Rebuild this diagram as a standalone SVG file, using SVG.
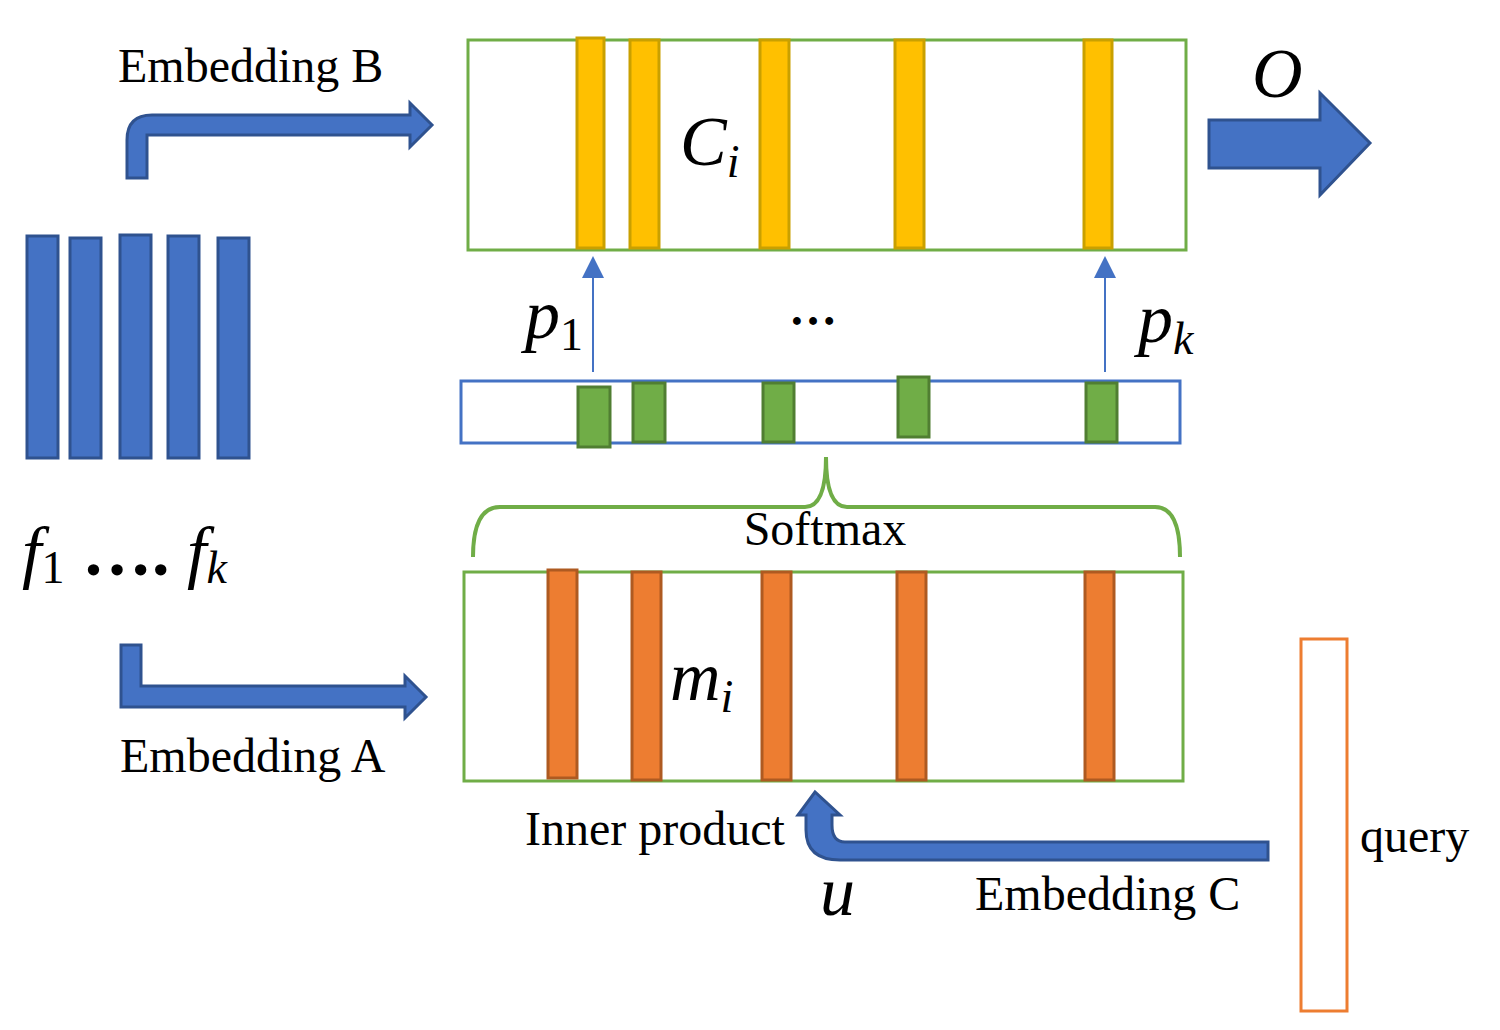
<svg xmlns="http://www.w3.org/2000/svg" width="1500" height="1030" viewBox="0 0 1500 1030">
<style>
.t{font-family:"Liberation Serif",serif;font-size:48px;fill:#000}
.m{font-family:"Liberation Serif",serif;font-style:italic;font-size:70px;fill:#000}
.s{font-size:46px;font-style:normal}
.si{font-size:46px}
.blue{fill:#4472C4;stroke:#2F528F;stroke-width:3}
.y{fill:#FFC000;stroke:#C9A000;stroke-width:3}
.g{fill:#70AD47;stroke:#507E32;stroke-width:3}
.o{fill:#ED7D31;stroke:#AE5A21;stroke-width:3}
</style>
<rect width="1500" height="1030" fill="#fff"/>
<g id="left-bars">
<rect class="blue" x="27" y="236" width="31" height="222"/>
<rect class="blue" x="70" y="238" width="31" height="220"/>
<rect class="blue" x="120" y="235" width="31" height="223"/>
<rect class="blue" x="168" y="236" width="31" height="222"/>
<rect class="blue" x="218" y="238" width="31" height="220"/>
<text class="m" x="22" y="575">f<tspan class="s" dy="8">1</tspan><tspan dy="-8" font-style="normal" font-weight="bold"> ….</tspan><tspan> f</tspan><tspan class="si" dy="8">k</tspan></text>
</g>
<g id="top-box">
<rect x="468" y="40" width="718" height="210" fill="none" stroke="#70AD47" stroke-width="3"/>
<rect class="y" x="577" y="38" width="27" height="210"/>
<rect class="y" x="630" y="40" width="29" height="208"/>
<rect class="y" x="760" y="40" width="29" height="208"/>
<rect class="y" x="895" y="40" width="29" height="208"/>
<rect class="y" x="1084" y="40" width="28" height="208"/>
<text class="m" x="680" y="165">C<tspan class="si" dy="12">i</tspan></text>
</g>
<g id="mid-box">
<rect x="461" y="381" width="719" height="62" fill="none" stroke="#4472C4" stroke-width="3"/>
<rect class="g" x="578" y="387" width="32" height="60"/>
<rect class="g" x="633" y="383" width="32" height="59"/>
<rect class="g" x="763" y="383" width="31" height="59"/>
<rect class="g" x="898" y="377" width="31" height="60"/>
<rect class="g" x="1086" y="383" width="31" height="59"/>
</g>
<g id="bottom-box">
<rect x="464" y="572" width="719" height="209" fill="none" stroke="#70AD47" stroke-width="3"/>
<rect class="o" x="548" y="570" width="29" height="208"/>
<rect class="o" x="632" y="572" width="29" height="208"/>
<rect class="o" x="762" y="572" width="29" height="208"/>
<rect class="o" x="897" y="572" width="29" height="208"/>
<rect class="o" x="1085" y="572" width="29" height="208"/>
<text class="m" x="670" y="700">m<tspan class="si" dy="12">i</tspan></text>
</g>
<g id="query">
<rect x="1301" y="639" width="46" height="372" fill="none" stroke="#ED7D31" stroke-width="3"/>
<text class="t" x="1360" y="852">query</text>
</g>
<g id="connectors">
<path class="blue" d="M127,178 V140 Q127,115 152,115 H410 V103 L432,125 L410,147 V135 H147 V178 Z"/>
<path class="blue" d="M121,645 H141 V686 H405 V676 L426,697 L405,718 V707 H121 Z"/>
<path class="blue" d="M1209,120 H1320 V93 L1370,143 L1320,195 V168 H1209 Z"/>
<path class="blue" d="M1268,842 H845 Q832,842 832,825 V815 H840 L815,792 L798,815 H806 V830 Q806,860 840,860 H1268 Z"/>
<line x1="593" y1="372" x2="593" y2="270" stroke="#4472C4" stroke-width="2"/>
<path d="M582,278 L593,256 L604,278 Z" fill="#4472C4"/>
<line x1="1105" y1="372" x2="1105" y2="270" stroke="#4472C4" stroke-width="2"/>
<path d="M1094,278 L1105,256 L1116,278 Z" fill="#4472C4"/>
<path d="M473,557 Q473,507 500,507 H805 Q826,507 826,457 Q826,507 847,507 H1155 Q1180,507 1180,557" fill="none" stroke="#70AD47" stroke-width="4"/>
</g>
<g id="labels">
<text class="t" x="118" y="82">Embedding B</text>
<text class="t" x="120" y="772">Embedding A</text>
<text class="t" x="975" y="910">Embedding C</text>
<text class="t" x="525" y="845">Inner product</text>
<text class="t" x="825" y="545" text-anchor="middle">Softmax</text>
<text class="t" x="813" y="325" text-anchor="middle" font-weight="bold">…</text>
<text class="m" x="1252" y="97">O</text>
<text class="m" x="525" y="338">p<tspan class="s" dy="12">1</tspan></text>
<text class="m" x="1138" y="342">p<tspan class="si" dy="12">k</tspan></text>
<text class="m" x="820" y="915">u</text>
</g>
</svg>
